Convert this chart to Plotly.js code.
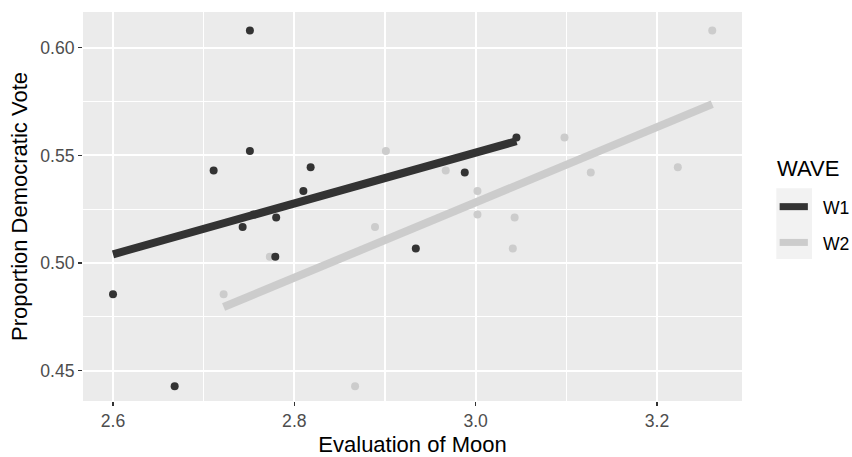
<!DOCTYPE html>
<html>
<head>
<meta charset="utf-8">
<script src="https://cdn.plot.ly/plotly-3.0.1.min.js"></script>
<style>html,body{margin:0;padding:0;background:#fff;}#chart{width:852px;height:457px;}</style>
</head>
<body>
<div id="chart"></div>
<script>
// ---- data ----
const waves = ["W1", "W2"];
const w1_x = [2.751, 2.751, 2.711, 2.818, 2.810, 2.743, 2.780, 2.755, 2.779, 2.600, 2.668, 2.934, 2.988, 3.045];
const w1_y = [0.608, 0.552, 0.543, 0.5445, 0.5334, 0.5167, 0.5211, 0.5225, 0.5029, 0.4855, 0.4427, 0.5067, 0.5421, 0.5583];
const w2_x = [3.261, 2.901, 2.967, 3.098, 3.127, 3.223, 3.002, 3.002, 3.043, 3.041, 2.889, 2.773, 2.722, 2.867];
const w2_y = [0.608, 0.552, 0.543, 0.5583, 0.5421, 0.5445, 0.5334, 0.5225, 0.5211, 0.5067, 0.5167, 0.5029, 0.4855, 0.4427];
const xTicks = [2.6, 2.8, 3.0, 3.2];
const yTicks = [0.45, 0.50, 0.55, 0.60];
const xLabel = "Evaluation of Moon";
const yLabel = "Proportion Democratic Vote";
const legendTitle = "WAVE";

// ---- styles ----
const colors = {W1: "#333333", W2: "#cccccc"};
const FONT = "Liberation Sans, Arial, Helvetica, sans-serif";

function lmFit(xs, ys) {
  const n = xs.length;
  const mx = xs.reduce((a, b) => a + b, 0) / n;
  const my = ys.reduce((a, b) => a + b, 0) / n;
  let sxy = 0, sxx = 0;
  for (let i = 0; i < n; i++) { sxy += (xs[i] - mx) * (ys[i] - my); sxx += (xs[i] - mx) ** 2; }
  const b = sxy / sxx, a = my - b * mx;
  const x0 = Math.min(...xs), x1 = Math.max(...xs);
  return {x: [x0, x1], y: [a + b * x0, a + b * x1]};
}

const series = {W1: {x: w1_x, y: w1_y}, W2: {x: w2_x, y: w2_y}};

const traces = [];
// points: W2 first, then W1
["W2", "W1"].forEach(w => {
  traces.push({type: "scatter", mode: "markers", x: series[w].x, y: series[w].y, name: w,
    marker: {color: colors[w], size: 8}, showlegend: false, hoverinfo: "x+y"});
});
// fitted lines
["W1", "W2"].forEach(w => {
  const f = lmFit(series[w].x, series[w].y);
  traces.push({type: "scatter", mode: "lines", x: f.x, y: f.y, name: w,
    line: {color: colors[w], width: 8}, showlegend: false, hoverinfo: "skip"});
});

// legend (ggplot style), paper-pixel positions
const W = 852, H = 457;
const L = 83.3, R = 741.7, T = 11.7, B = 401;
const pw = R - L, ph = B - T;
const px = v => (v - L) / pw;
const py = v => (B - v) / ph;

const shapes = [
  {type: "rect", xref: "paper", yref: "paper", x0: px(776), x1: px(811.7), y0: py(259), y1: py(188),
   fillcolor: "#f2f2f2", line: {width: 0}, layer: "above"}
];
const keyY = [206.5, 242.3];
const annotations = [
  {xref: "paper", yref: "paper", x: px(775), y: py(168), xanchor: "left", yanchor: "middle",
   text: legendTitle, showarrow: false, font: {family: FONT, size: 22, color: "#000"}}
];
waves.forEach((w, i) => {
  shapes.push({type: "line", xref: "paper", yref: "paper", x0: px(779.3), x1: px(807.5),
    y0: py(keyY[i]), y1: py(keyY[i]), line: {color: colors[w], width: 7}, layer: "above"});
  annotations.push({xref: "paper", yref: "paper", x: px(821), y: py(keyY[i] + 1.5), xanchor: "left", yanchor: "middle",
    text: w, showarrow: false, font: {family: FONT, size: 17.6, color: "#000"}});
});

const layout = {
  width: W, height: H,
  margin: {l: L, r: W - R, t: T, b: H - B, pad: 0},
  paper_bgcolor: "#ffffff", plot_bgcolor: "#ebebeb",
  showlegend: false,
  font: {family: FONT},
  xaxis: {
    range: [2.5669, 3.2938], tickvals: xTicks, ticktext: xTicks.map(v => v.toFixed(1)),
    ticks: "outside", ticklen: 4, tickwidth: 1.1, tickcolor: "#333333",
    tickfont: {family: FONT, size: 17.6, color: "#4d4d4d"},
    showgrid: true, gridcolor: "#ffffff", gridwidth: 1.8,
    minor: {tickvals: [2.7, 2.9, 3.1], showgrid: true, gridcolor: "#ffffff", gridwidth: 1.1, ticks: ""},
    zeroline: false, showline: false,
    title: {text: xLabel, font: {family: FONT, size: 22, color: "#000"}, standoff: 6},
    automargin: false, fixedrange: true
  },
  yaxis: {
    range: [0.4359, 0.6166], tickvals: yTicks, ticktext: yTicks.map(v => v.toFixed(2)),
    ticks: "outside", ticklen: 4, tickwidth: 1.1, tickcolor: "#333333",
    tickfont: {family: FONT, size: 17.6, color: "#4d4d4d"},
    showgrid: true, gridcolor: "#ffffff", gridwidth: 1.8,
    minor: {tickvals: [0.475, 0.525, 0.575], showgrid: true, gridcolor: "#ffffff", gridwidth: 1.1, ticks: ""},
    zeroline: false, showline: false,
    title: {text: yLabel, font: {family: FONT, size: 22, color: "#000"}, standoff: 6},
    automargin: false, fixedrange: true
  },
  shapes: shapes,
  annotations: annotations
};

Plotly.newPlot("chart", traces, layout, {displayModeBar: false, staticPlot: true});
</script>
</body>
</html>
